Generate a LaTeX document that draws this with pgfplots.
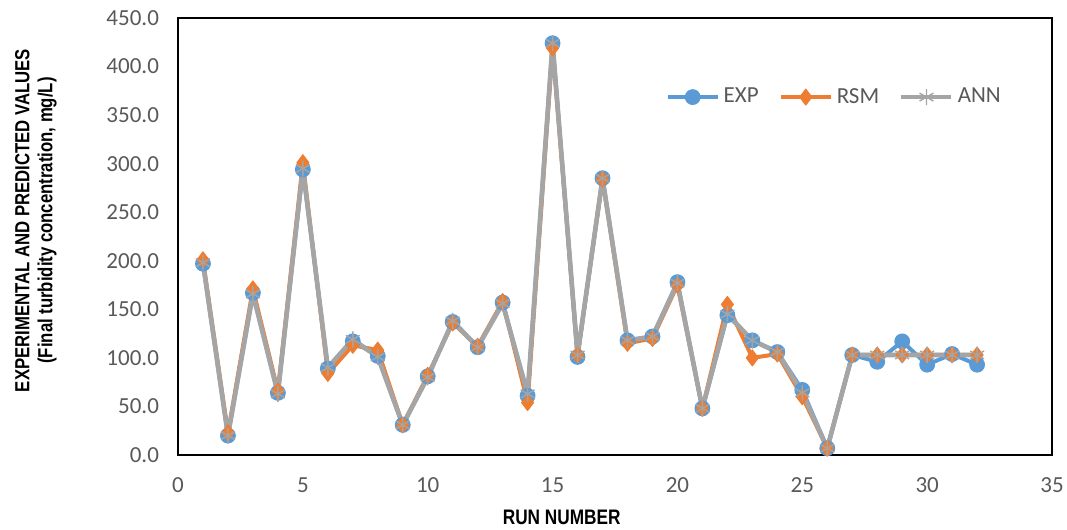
\documentclass[border=0pt]{standalone}
\usepackage{pgfplots}
\pgfplotsset{compat=1.18}
\usepackage{fontspec}
\setmainfont{Carlito}
\newfontfamily\narrowbold[FakeStretch=0.82]{Liberation Sans Bold}
\definecolor{cexp}{HTML}{5B9BD5}
\definecolor{crsm}{HTML}{ED7D31}
\definecolor{cann}{HTML}{A5A5A5}
\definecolor{ctick}{HTML}{595959}
\pgfplotstableread{
run exp rsm ann
1 197 201 198
2 20 23 20
3 167 171 166
4 64 66 63
5 294 301 295
6 89 84 90
7 117 113 119
8 102 108 101
9 31 31 31
10 81 82 80
11 137 136 138
12 111 112 111
13 157 158 156
14 61 54 63
15 424 419 424
16 101 103 103
17 285 284 285
18 118 115 118
19 122 120 122
20 178 175 177
21 48 48 48
22 144 155 145
23 118 100 118
24 106 104 106
25 67 60 64
26 7 7 7
27 103 103 103
28 96 103 103
29 117 103 103
30 93 103 103
31 104 103 103
32 93 103 103
}\datatable
\begin{document}
\begin{tikzpicture}
\begin{axis}[
  scale only axis,
  width=437pt, height=218.5pt,
  xmin=0, xmax=35, ymin=0, ymax=450,
  xtick={0,5,...,35}, ytick={0,50,...,450},
  axis line style={black, line width=0.9pt},
  major tick length=0pt,
  tick label style={font=\fontsize{11.5}{13}\selectfont, text=ctick},
  /pgf/number format/assume math mode=true,
  yticklabel style={/pgf/number format/fixed, /pgf/number format/fixed zerofill, /pgf/number format/precision=1, xshift=-6pt},
  xticklabel style={yshift=-8pt},
  xlabel={RUN NUMBER},
  xlabel style={font=\narrowbold\fontsize{10.5}{12}\selectfont, at={(rel axis cs:0.439,0)}, anchor=north, yshift=-24pt},
  ylabel={EXPERIMENTAL AND PREDICTED VALUES\\(Final turbidity concentration, mg/L)},
  ylabel style={font=\narrowbold\fontsize{10.2}{11.5}\selectfont, align=center, yshift=18pt, xshift=8pt},
  legend columns=3,
  legend style={draw=none, fill=none, at={(rel axis cs:0.752,0.819)}, anchor=center,
    font=\fontsize{11.5}{13}\selectfont, text=ctick,
    /tikz/every even column/.append style={column sep=8pt}},
  legend image code/.code={
    \draw[mark repeat=2,mark phase=2] plot coordinates {(0pt,0pt) (12.5pt,0pt) (25pt,0pt)};
  },
]
\addplot[cexp, line width=2pt, line join=round, mark=*, mark size=3.7pt, mark options={fill=cexp, draw=cexp, line width=0.5pt}] table[x=run,y=exp]{\datatable};
\addlegendentry{EXP}
\addplot[crsm, line width=2pt, line join=round, mark=diamond*, mark size=4pt, mark options={fill=crsm, draw=crsm, line width=0.5pt}] table[x=run,y=rsm]{\datatable};
\addlegendentry{RSM}
\addplot[cann, line width=2.3pt, line join=round, mark=asterisk, mark size=4pt, mark options={draw=cann, line width=0.7pt}] table[x=run,y=ann]{\datatable};
\addlegendentry{ANN}
\coordinate (bl) at (rel axis cs:0,0);
\coordinate (tr) at (rel axis cs:1,1);
\end{axis}
\pgfresetboundingbox
\path ([shift={(-89pt,-37pt)}]bl) rectangle ([shift={(7.5pt,9pt)}]tr);
\end{tikzpicture}
\end{document}
